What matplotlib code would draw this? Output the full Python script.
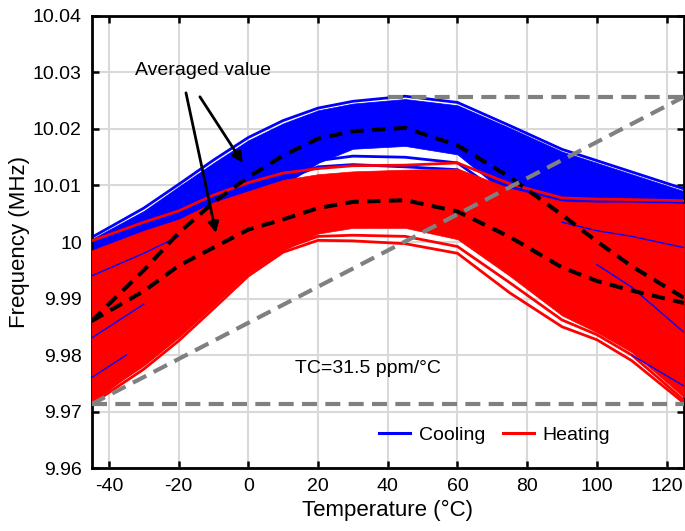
import matplotlib.pyplot as plt
import numpy as np
from matplotlib.lines import Line2D

plt.rcParams['font.family'] = ['Liberation Sans', 'DejaVu Sans']
plt.rcParams['axes.unicode_minus'] = False

# temperature points (deg C)
temps = [-45, -30, -20, -10, 0, 10, 20, 30, 45, 60, 75, 90, 100, 110, 125]

# all frequencies below are offsets from 10 MHz, in kHz
# cooling runs: band envelope + edge strands
cool_hi = [0.5, 5.5, 9.8, 14.0, 18.0, 21.0, 23.3, 24.5, 25.3, 24.2, 20.2, 16.0, 14.0, 12.0, 9.0]
cool_lo = [-25, -16, -9, -3, 5, 10, 14, 16.5, 17, 15.5, 8, -1, -6, -12, -22]
cool_top = [0.8, 6.0, 10.2, 14.5, 18.5, 21.5, 23.7, 24.9, 25.8, 24.7, 20.6, 16.4, 14.4, 12.4, 9.4]
cool_low1 = [-22, -12, -5, 1.5, 8.0, 11.0, 13.3, 13.7, 13.3, 12.8, 6.5, -2.0, -7.0, -13.0, -23.0]
cool_low2 = [-18, -9, -3, 3, 9, 12.2, 14.4, 15.2, 15.0, 14.0, 7.5, -1.0, -5.5, -11.0, -20.0]

# heating runs
heat_hi = [-1.5, 2.0, 4.0, 7.0, 9.0, 11.0, 12.0, 12.5, 12.8, 13.0, 9.5, 7.2, 7.0, 7.0, 6.8]
heat_lo = [-28.5, -21.5, -16.5, -11, -5.5, -1.5, 1.5, 2.5, 2.5, 0.5, -6, -13, -16, -19.5, -27.5]
heat_top = [0.2, 3.5, 5.5, 8.3, 10.5, 12.2, 13.0, 13.5, 13.6, 14.0, 10.3, 7.8, 7.6, 7.5, 7.3]
heat_low1 = [-28.7, -22.5, -17.5, -11.8, -6.0, -1.8, 0.3, 0.2, -0.3, -2.0, -9.0, -15.0, -17.3, -21.0, -28.5]
heat_low2 = [-28.0, -21.8, -16.8, -11.2, -5.4, -1.2, 1.0, 1.2, 1.0, -0.8, -7.2, -13.8, -16.4, -20.0, -28.0]

# short cooling segments that show on top of the heating band
streak_temps = [[-45, -30, -20], [-45, -30], [-45, -35], [90, 100, 110, 125], [100, 110, 125], [110, 125]]
streak_vals = [[-6, -2, 1], [-17, -11], [-24, -20], [3.5, 2.0, 1.0, -1.0], [-4, -8, -16], [-20, -25.5]]

# averaged values
cool_avg = [-14.0, -5.0, 1.6, 7.0, 11.5, 15.3, 18.3, 19.6, 20.2, 17.1, 11.5, 4.8, 0.1, -4.3, -9.9]
heat_avg = [-14.0, -8.7, -4.2, -1.0, 2.2, 4.0, 6.0, 7.1, 7.4, 5.4, 0.9, -4.5, -6.9, -8.6, -10.8]

# TC box (kHz offsets)
tc_temps = [-45, 125]
tc_low = -28.7
tc_high = 25.7
tc_top_start = 40

ytick_vals = [9.96, 9.97, 9.98, 9.99, 10.0, 10.01, 10.02, 10.03, 10.04]
ytick_labels = ['9.96', '9.97', '9.98', '9.99', '10', '10.01', '10.02', '10.03', '10.04']
xtick_vals = [-40, -20, 0, 20, 40, 60, 80, 100, 120]


def mhz(v):
    return 10 + np.asarray(v, dtype=float) / 1000.0


BLUE = '#0000ff'
RED = '#ff0000'

fig = plt.figure(figsize=(6.85, 5.31), dpi=100)
ax = fig.add_axes([0.1336, 0.1186, 0.865, 0.8513])

# cooling
ax.fill_between(temps, mhz(cool_lo), mhz(cool_hi), color=BLUE, lw=0.5, zorder=2)
for v in [cool_top, cool_low1, cool_low2]:
    ax.plot(temps, mhz(v), color=BLUE, lw=2.0, zorder=2)

# heating
ax.fill_between(temps, mhz(heat_lo), mhz(heat_hi), color=RED, lw=0.5, zorder=3)
for v in [heat_top, heat_low1, heat_low2]:
    ax.plot(temps, mhz(v), color=RED, lw=2.0, zorder=3)

for t, v in zip(streak_temps, streak_vals):
    ax.plot(t, mhz(v), color=BLUE, lw=1.0, zorder=3.5)

# averages
ax.plot(temps, mhz(cool_avg), color='k', lw=2.9, ls=(0, (3.3, 2.1)), zorder=5)
ax.plot(temps, mhz(heat_avg), color='k', lw=2.9, ls=(0, (3.3, 2.1)), zorder=5)

# TC lines
gray_ls = (0, (3.6, 2.0))
ax.plot(tc_temps, mhz([tc_low, tc_low]), color='#808080', lw=3.0, ls=gray_ls, zorder=6)
ax.plot([tc_top_start, tc_temps[1]], mhz([tc_high, tc_high]), color='#808080', lw=3.0, ls=gray_ls, zorder=6)
ax.plot(tc_temps, mhz([tc_low, tc_high]), color='#808080', lw=3.0, ls=gray_ls, zorder=6)

ax.text(13.3, 9.9777, 'TC=31.5 ppm/\u00b0C', fontsize=14, ha='left', va='center', zorder=7)

# annotation
ax.text(-32.5, 10.0304, 'Averaged value', fontsize=14, ha='left', va='center', zorder=7)
arrow_kw = dict(arrowstyle='-|>', color='k', lw=2.0, mutation_scale=16, shrinkA=0, shrinkB=0)
ax.annotate('', xy=(-1.6, 10.014), xytext=(-13.9, 10.0257), arrowprops=arrow_kw, zorder=7)
ax.annotate('', xy=(-9.3, 10.0016), xytext=(-17.9, 10.0264), arrowprops=arrow_kw, zorder=7)

# axes styling
ax.set_xlim(-45, 125)
ax.set_ylim(9.96, 10.04)
ax.set_xticks(xtick_vals)
ax.set_yticks(ytick_vals)
ax.set_yticklabels(ytick_labels)
ax.tick_params(direction='in', length=5, width=1.8, labelsize=14, pad=7,
               top=True, right=True)
for s in ax.spines.values():
    s.set_linewidth(2.0)
ax.grid(True, color='#d9d9d9', lw=1.5)
ax.set_axisbelow(True)

ax.set_xlabel('Temperature (\u00b0C)', fontsize=16, labelpad=4)
ax.set_ylabel('Frequency (MHz)', fontsize=16, labelpad=2)

handles = [Line2D([0], [0], color=BLUE, lw=2.2), Line2D([0], [0], color=RED, lw=2.2)]
ax.legend(handles, ['Cooling', 'Heating'], ncol=2, frameon=False, fontsize=14,
          loc='center', bbox_to_anchor=(0.68, 0.073), handlelength=1.6,
          handletextpad=0.45, columnspacing=0.9)

fig.savefig('out.png', dpi=100)
